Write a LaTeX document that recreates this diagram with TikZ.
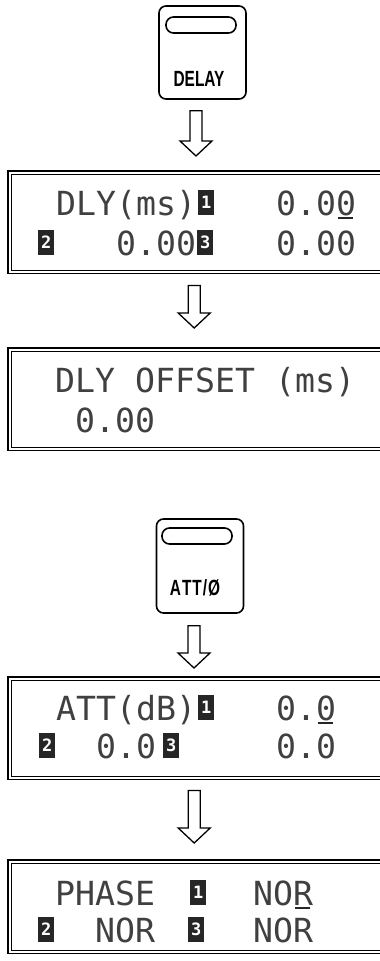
\documentclass[tikz,border=0pt]{standalone}
\usepackage{fontspec}
\setmainfont{Liberation Sans}
\newfontfamily\lcdfont{DejaVu Sans Mono}
\newfontfamily\keyfont[FakeStretch=0.7]{Liberation Sans Bold}
\usetikzlibrary{calc}

\begin{document}
\begin{tikzpicture}[
    x=1pt, y=-1pt,
    keybox/.style={draw, line width=1.6pt, rounded corners=7pt, minimum width=87pt, minimum height=93pt, inner sep=0pt},
    slot/.style={draw, line width=1.6pt, rounded corners=7.5pt, minimum width=70pt, minimum height=16pt, inner sep=0pt},
    keylabel/.style={font=\keyfont\fontsize{22}{22}\selectfont, inner sep=0pt, anchor=base},
    lcd/.style={minimum width=372pt, minimum height=102pt, inner sep=0pt, anchor=north west},
    frameout/.style={line width=1.4pt},
    framein/.style={line width=0.7pt},
    lcdtext/.style={font=\lcdfont\fontsize{33.2}{34}\selectfont, text=black!75, inner sep=0pt, anchor=base west},
    chan/.style={fill=black!85, text=white, font=\lcdfont\bfseries\fontsize{17}{17}\selectfont, minimum width=16pt, minimum height=25pt, inner sep=0pt, anchor=south west},
    cursor/.style={line width=1.6pt, black!85},
    hollow/.style={draw, line width=1.3pt, line join=miter, to path={
        let \p1=(\tikztostart), \p2=(\tikztotarget) in
        (\x1-6pt,\y1) -- (\x1-6pt,\y2+15pt) -- (\x1-16pt,\y2+15pt) -- (\x1,\y2)
        -- (\x1+16pt,\y2+15pt) -- (\x1+6pt,\y2+15pt) -- (\x1+6pt,\y1) -- cycle}}
]
    \useasboundingbox (0,0) rectangle (380,961);

    % DELAY key
    \node[keybox] (delaykey) at (202.5,52.5) {};
    \node[slot] (delayslot) at (201,25) {};
    \node[keylabel] (delaylab) at (199,86) {DELAY};

    % ATT/phase key
    \node[keybox, minimum height=94pt] (attkey) at (200,566) {};
    \node[slot] (attslot) at (197,536) {};
    \node[keylabel] (attlab) at (195,595) {A\kern1ptT\kern1ptT\kern1pt/\kern1ptØ};

    % LCD windows (right side runs off the page)
    \node[lcd] (dlydisp) at (8,171) {};
    \node[lcd] (offdisp) at (8,348) {};
    \node[lcd] (attdisp) at (8,677) {};
    \node[lcd, minimum height=93pt] (phsdisp) at (8,860) {};

    \foreach \d in {dlydisp,offdisp,attdisp,phsdisp}{
        \draw[frameout] (\d.north east) -- (\d.north west) -- (\d.south west) -- (\d.south east);
        \draw[framein] ([yshift=-3pt]\d.north east) -- ([shift={(3pt,-3pt)}]\d.north west)
            -- ([shift={(3pt,3pt)}]\d.south west) -- ([yshift=3pt]\d.south east);
    }

    % delay display
    \node[lcdtext] (dlyhead) at (56,215) {DLY(ms)};
    \node[chan] (dlyc1) at (198,215) {1};
    \node[lcdtext] (dlyv1) at (276,215) {0.00};
    \node[chan] (dlyc2) at (38,255) {2};
    \node[lcdtext] (dlyv2) at (116,255) {0.00};
    \node[chan] (dlyc3) at (197,255) {3};
    \node[lcdtext] (dlyv3) at (276,255) {0.00};
    \draw[cursor] ([shift={(-18pt,-3pt)}]dlyv1.base east) -- ([shift={(-3pt,-3pt)}]dlyv1.base east);

    % offset display
    \node[lcdtext] (offhead) at (55,392) {DLY OFFSET (ms)};
    \node[lcdtext] (offval) at (75,432) {0.00};

    % attenuation display
    \node[lcdtext] (atthead) at (56,720) {ATT(dB)};
    \node[chan] (attc1) at (198,720) {1};
    \node[lcdtext] (attv1) at (276,720) {0.0};
    \node[chan] (attc2) at (39,758) {2};
    \node[lcdtext] (attv2) at (96,758) {0.0};
    \node[chan] (attc3) at (163,758) {3};
    \node[lcdtext] (attv3) at (276,758) {0.0};
    \draw[cursor] ([shift={(-18pt,-3pt)}]attv1.base east) -- ([shift={(-3pt,-3pt)}]attv1.base east);

    % phase display
    \node[lcdtext] (phshead) at (55,905) {PHASE};
    \node[chan] (phsc1) at (190,905) {1};
    \node[lcdtext] (phsv1) at (253,905) {NOR};
    \node[chan] (phsc2) at (38,942) {2};
    \node[lcdtext] (phsv2) at (95,942) {NOR};
    \node[chan] (phsc3) at (188,942) {3};
    \node[lcdtext] (phsv3) at (253,942) {NOR};
    \draw[cursor] ([shift={(-18pt,-3pt)}]phsv1.base east) -- ([shift={(-3pt,-3pt)}]phsv1.base east);

    % hollow arrows
    \draw[hollow] ([shift={(-6.5pt,-11pt)}]delaykey.south) to ([yshift=15pt]dlydisp.north);
    \draw[hollow] ([yshift=-12pt]dlydisp.south) to ([yshift=20pt]offdisp.north);
    \draw[hollow] ([shift={(-6pt,-12pt)}]attkey.south) to ([yshift=9pt]attdisp.north);
    \draw[hollow] ([yshift=-11pt]attdisp.south) to ([yshift=17pt]phsdisp.north);

\end{tikzpicture}
\end{document}
